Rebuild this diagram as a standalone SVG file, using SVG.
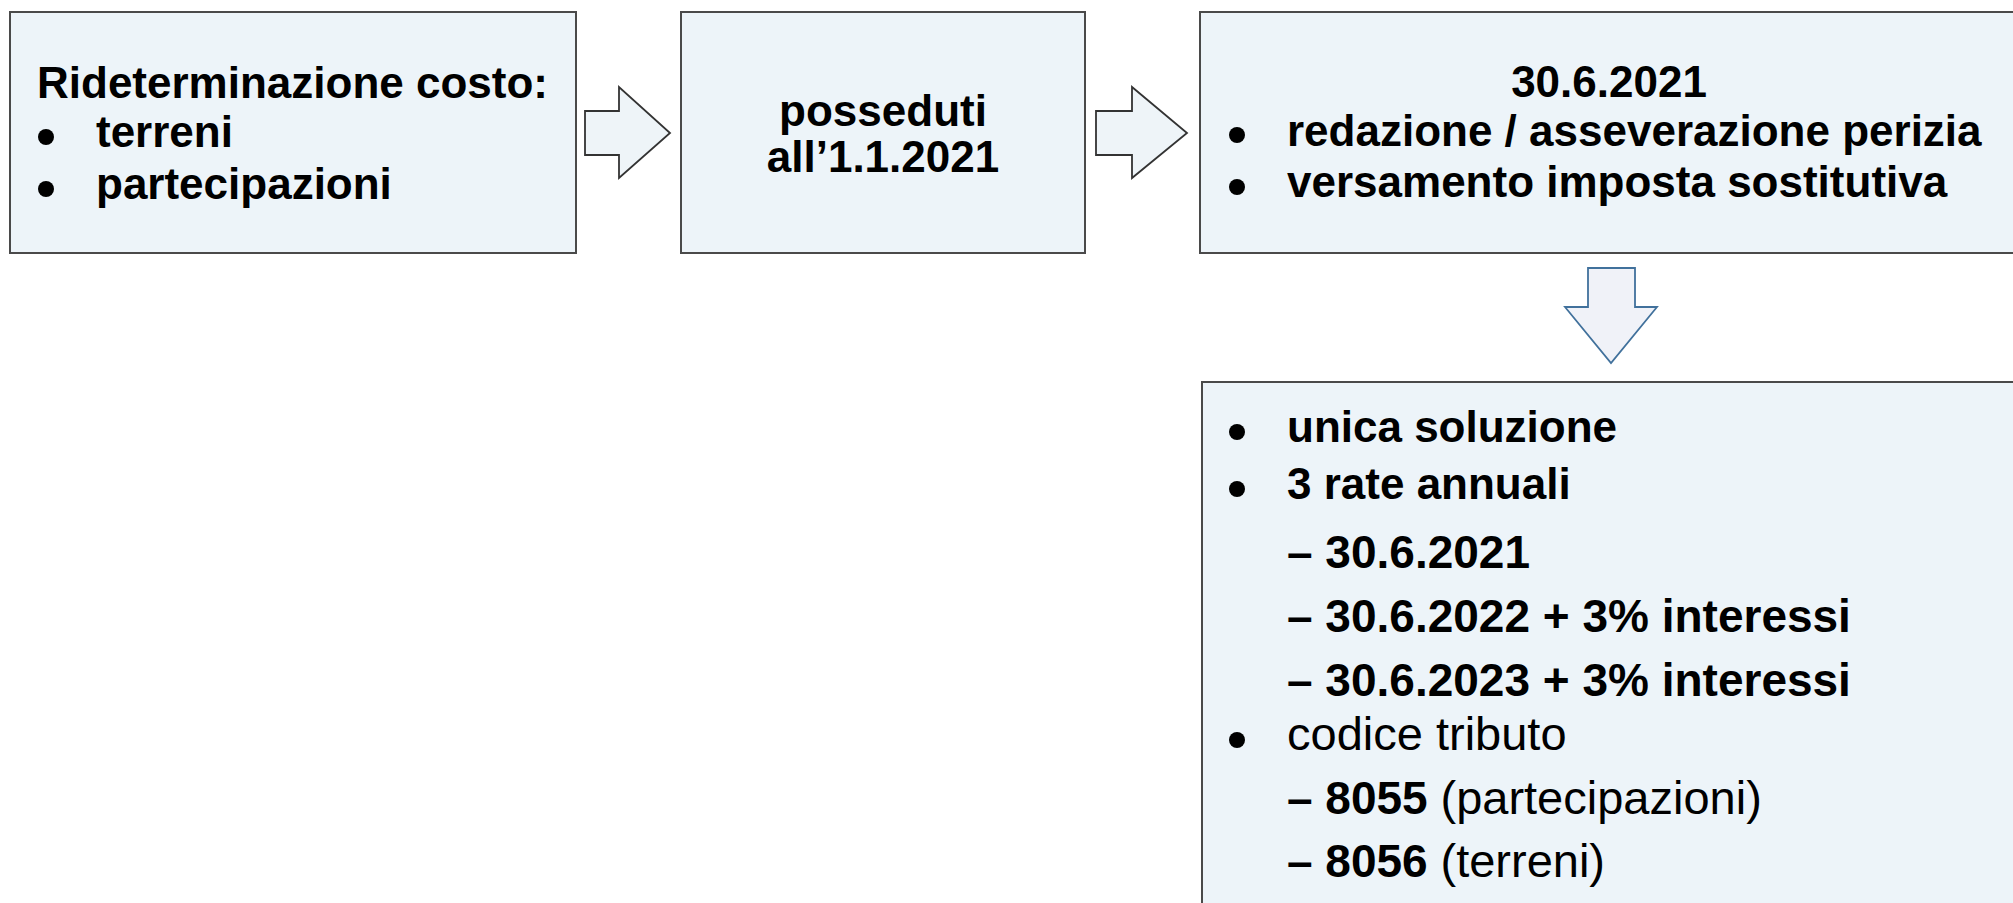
<svg xmlns="http://www.w3.org/2000/svg" width="2013" height="903" viewBox="0 0 2013 903">
<style>
.box{fill:#EDF4F9;stroke:#4a4a4a;stroke-width:2}
.t{font-family:"Liberation Sans",Arial,sans-serif;font-size:44px;font-weight:bold;fill:#000}
.d{font-size:46px}
.r{font-weight:normal;font-size:47px}
.b{fill:#000}
.arr{fill:#EEF4F8;stroke:#333;stroke-width:1.8;stroke-linejoin:miter}
.darr{fill:#F0F2F8;stroke:#41719C;stroke-width:1.8}
</style>
<rect width="2013" height="903" fill="#fff"/>
<g id="connectors">
<polygon class="arr" points="585,111 619,111 619,87 670,133 619,178 619,155 585,155"/>
<polygon class="arr" points="1096,111 1132,111 1132,87 1187,133 1132,178 1132,155 1096,155"/>
<polygon class="darr" points="1588,268 1635,268 1635,307 1657,307 1611,363 1565,307 1588,307"/>
</g>
<g id="node1">
<rect class="box" x="10" y="12" width="566" height="241"/>
<text class="t" x="37" y="98" font-size="43">Rideterminazione costo:</text>
<circle class="b" cx="46" cy="137" r="8"/>
<text class="t" x="96" y="147" font-size="43">terreni</text>
<circle class="b" cx="46" cy="189" r="8"/>
<text class="t" x="96" y="199" font-size="43">partecipazioni</text>
</g>
<g id="node2">
<rect class="box" x="681" y="12" width="404" height="241"/>
<text class="t" x="883" y="126" text-anchor="middle" font-size="41">posseduti</text>
<text class="t" x="883" y="172" text-anchor="middle" font-size="41">all’1.1.2021</text>
</g>
<g id="node3">
<rect class="box" x="1200" y="12" width="820" height="241"/>
<text class="t" x="1609" y="97" text-anchor="middle">30.6.2021</text>
<circle class="b" cx="1237" cy="135" r="8"/>
<text class="t" x="1287" y="146">redazione / asseverazione perizia</text>
<circle class="b" cx="1237" cy="187" r="8"/>
<text class="t" x="1287" y="197">versamento imposta sostitutiva</text>
</g>
<g id="node4">
<rect class="box" x="1202" y="382" width="820" height="540"/>
<circle class="b" cx="1237" cy="432" r="8"/>
<text class="t" x="1287" y="442">unica soluzione</text>
<circle class="b" cx="1237" cy="489" r="8"/>
<text class="t" x="1287" y="499">3 rate annuali</text>
<text class="t d" x="1287" y="568">– 30.6.2021</text>
<text class="t d" x="1287" y="632">– 30.6.2022 + 3% interessi</text>
<text class="t d" x="1287" y="696">– 30.6.2023 + 3% interessi</text>
<circle class="b" cx="1237" cy="740" r="8"/>
<text class="t" x="1287" y="750"><tspan class="r">codice tributo</tspan></text>
<text class="t d" x="1287" y="814">– 8055 <tspan class="r">(partecipazioni)</tspan></text>
<text class="t d" x="1287" y="877">– 8056 <tspan class="r">(terreni)</tspan></text>
</g>
</svg>
